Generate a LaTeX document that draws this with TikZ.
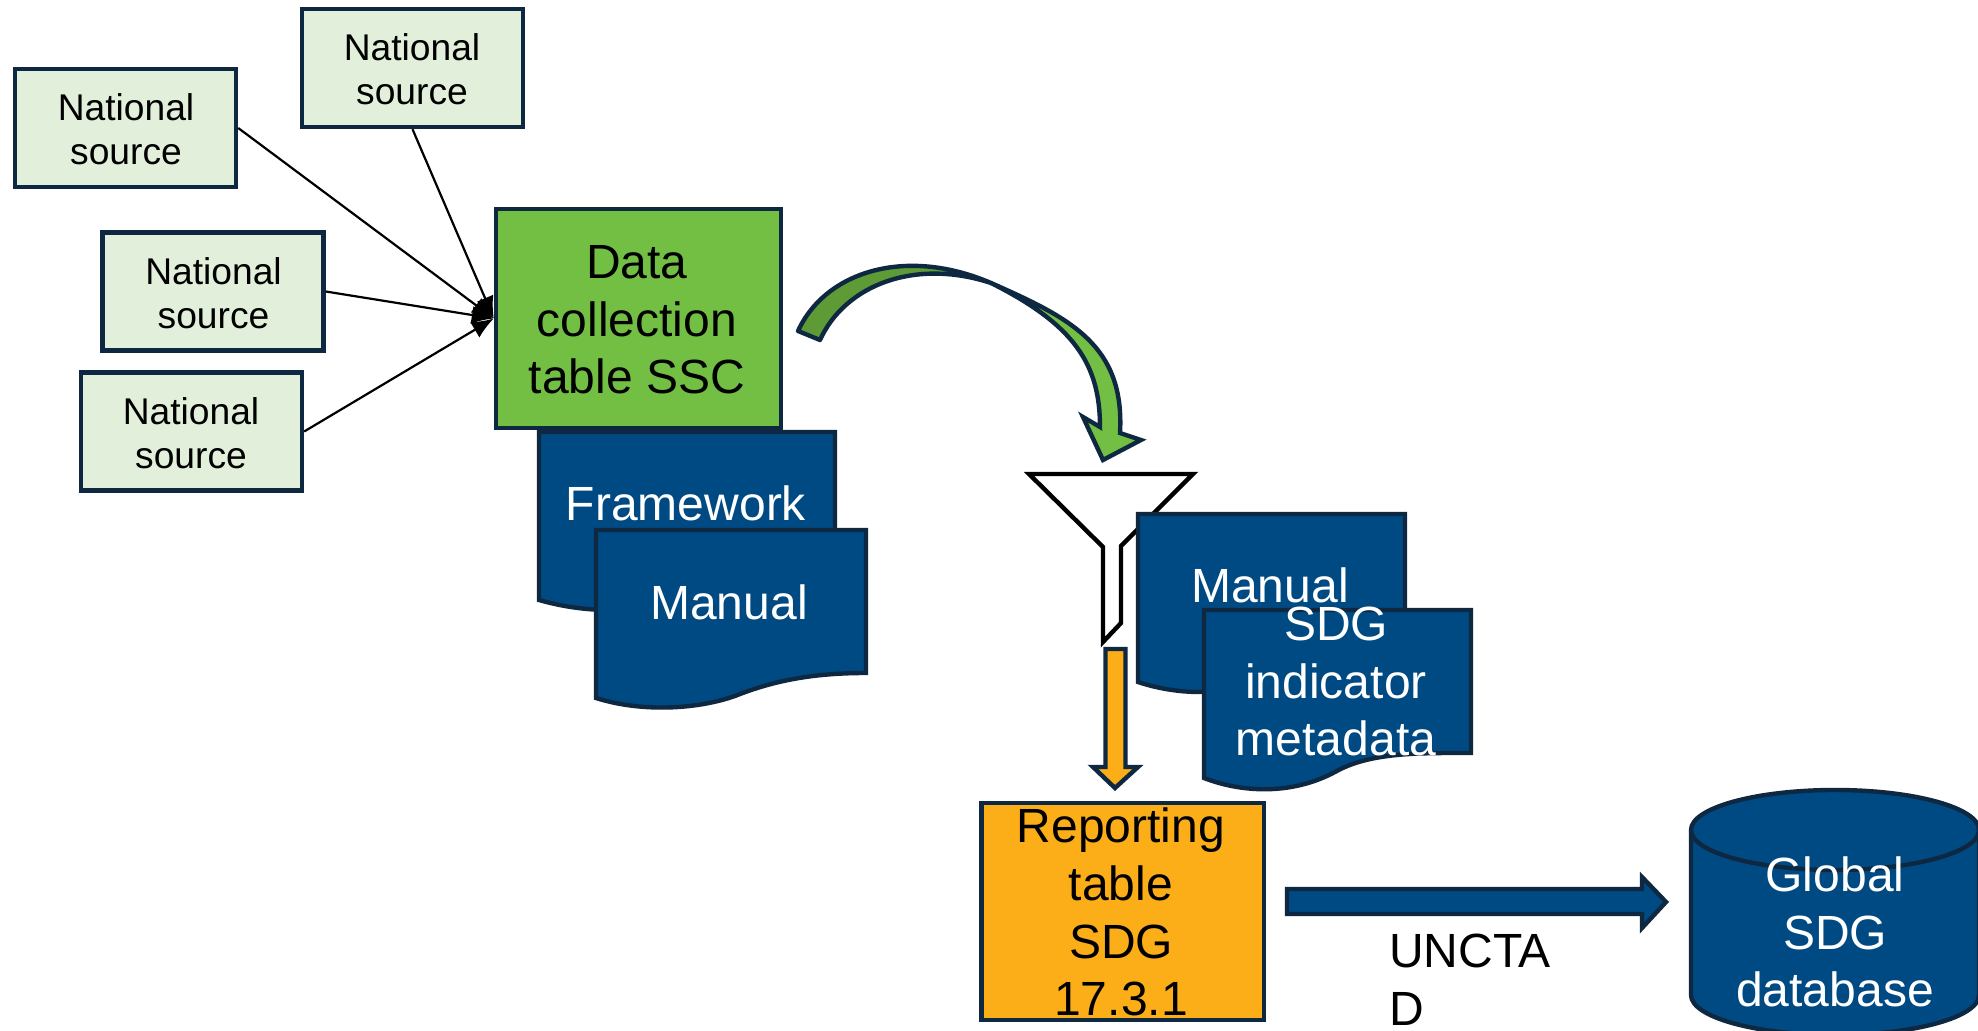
\documentclass[tikz,border=0pt]{standalone}
\usepackage{fontspec}
\setmainfont{Liberation Sans}
\usetikzlibrary{arrows.meta}
\definecolor{navy}{HTML}{0E2841}
\definecolor{docblue}{HTML}{004A84}
\definecolor{palegreen}{HTML}{E2EFDA}
\definecolor{midgreen}{HTML}{72BF44}
\definecolor{darkgreen}{HTML}{5E9B37}
\definecolor{amber}{HTML}{FBAE17}
\newcommand{\stacked}[1]{\begin{tabular}[t]{@{}c@{}}#1\end{tabular}}
\newcommand{\stackedleft}[1]{\begin{tabular}[t]{@{}l@{}}#1\end{tabular}}
\tikzset{
  x=0.5pt,y=-0.5pt,
  outlined/.style={draw=navy,line width=2.2pt,miter limit=10},
  srcbox/.style={outlined,fill=palegreen,rectangle,minimum width=110.5pt,minimum height=59pt,inner sep=0pt},
  datbox/.style={outlined,fill=midgreen,rectangle,minimum width=142.5pt,minimum height=109.5pt,inner sep=0pt},
  repbox/.style={outlined,fill=amber,rectangle,minimum width=141.25pt,minimum height=108.5pt,inner sep=0pt},
  docshape/.style={outlined,fill=docblue},
  conn/.style={draw=black,line width=1.1pt,-{Latex[length=11pt,width=9pt]}},
  smalltxt/.style={anchor=base,inner sep=0pt,text=black,font=\fontsize{18.6}{22}\selectfont},
  bigtxt/.style={anchor=base,inner sep=0pt,text=black,font=\fontsize{24}{28.8}\selectfont},
  whitetxt/.style={bigtxt,text=white},
}
\begin{document}
\begin{tikzpicture}
\useasboundingbox (0,0) rectangle (1978,1031);
\clip (0,0) rectangle (1978,1031);
% source boxes
\node[srcbox] (srcA) at (412.5,68) {};
\node[srcbox] (srcB) at (125.5,128) {};
\node[srcbox] (srcC) at (213,291.5) {};
\node[srcbox] (srcD) at (191.5,431.5) {};
\node[smalltxt] (tA) at (412,60.5) {\stacked{National\\source}};
\node[smalltxt] (tB) at (126,120.5) {\stacked{National\\source}};
\node[smalltxt] (tC) at (213.5,284.5) {\stacked{National\\source}};
\node[smalltxt] (tD) at (191,424.5) {\stacked{National\\source}};
% framework document
\draw[docshape] (539,432) -- (835,432) -- (835,575) .. controls (780,575) and (735,580) .. (687,596)
  .. controls (642,614) and (588,614) .. (539,600) -- cycle;
\node[whitetxt] (tFrame) at (686,520.5) {Framework};
% data collection box
\node[datbox] (data) at (638.5,318.5) {};
\node[bigtxt] (tData) at (637,278.5) {\stacked{Data\\collection\\table SSC}};
% connectors
\draw[conn] (srcA.south) -- (data.west);
\draw[conn] (srcB.east) -- (data.west);
\draw[conn] (srcC.east) -- (data.west);
\draw[conn] (srcD.east) -- (data.west);
% manual document
\draw[docshape] (596,530) -- (866,530) -- (866,673) .. controls (815,673) and (775,680) .. (735,696)
  .. controls (695,710) and (640,712) .. (596,698) -- cycle;
\node[whitetxt] (tManA) at (729,619.5) {Manual};
% curved arrow
\draw[outlined,fill=darkgreen,line join=round] (798,331) .. controls (825,272) and (905,246) .. (991,283)
  .. controls (915,258) and (845,285) .. (820,340) -- cycle;
\draw[outlined,fill=midgreen] (991,283) .. controls (1070,318) and (1125,345) .. (1120,433)
  -- (1141,440) -- (1103,460) -- (1083,417) -- (1100,427)
  .. controls (1100,365) and (1075,325) .. (991,283) -- cycle;
% funnel
\draw[draw=black,line width=2.2pt,fill=white,miter limit=10] (1029,474) -- (1193,474) -- (1121,546) -- (1121,623)
  -- (1103,642) -- (1103,547) -- cycle;
% second manual document
\draw[docshape] (1138,514) -- (1405,514) -- (1405,657) .. controls (1360,657) and (1310,660) .. (1270,678)
  .. controls (1230,696) and (1180,696) .. (1138,682) -- cycle;
\node[whitetxt] (tManB) at (1270,602.5) {Manual};
% metadata document
\draw[docshape] (1204,610) -- (1471,610) -- (1471,753) .. controls (1420,753) and (1370,752) .. (1335,772)
  .. controls (1290,796) and (1240,792) .. (1204,778) -- cycle;
\node[whitetxt] (tMeta) at (1336,640.5) {\stacked{SDG\\indicator\\metadata}};
% orange arrow
\draw[outlined,fill=amber] (1105.5,649) -- (1125.5,649) -- (1125.5,767) -- (1138,767) -- (1115,788)
  -- (1093,767) -- (1105.5,767) -- cycle;
% reporting box
\node[repbox] (report) at (1122.75,911.5) {};
\node[bigtxt] (tRep) at (1121,843) {\stacked{Reporting\\table\\SDG\\17.3.1}};
% blue arrow
\draw[outlined,fill=docblue] (1287,889) -- (1642,889) -- (1642,877) -- (1666,902) -- (1642,928) -- (1642,914)
  -- (1287,914) -- cycle;
\node[bigtxt] (tUn) at (1470,967.5) {\stackedleft{UNCTA\\D}};
% database cylinder
\draw[docshape] (1691,830) -- (1691,995) arc[start angle=180,end angle=0,x radius=144,y radius=40]
  -- (1979,830) arc[start angle=0,end angle=-180,x radius=144,y radius=40] -- cycle;
\draw[outlined] (1691,830) arc[start angle=180,end angle=0,x radius=144,y radius=40];
\node[whitetxt] (tDb) at (1835,891.5) {\stacked{Global\\SDG\\database}};
\end{tikzpicture}
\end{document}
